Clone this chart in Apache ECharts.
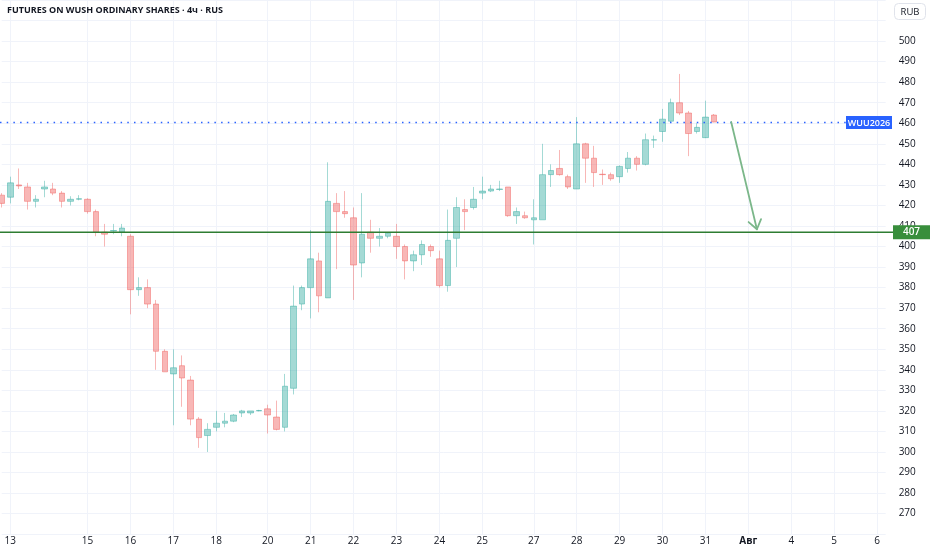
<!DOCTYPE html>
<html>
<head>
<meta charset="utf-8">
<script src="https://cdn.jsdelivr.net/npm/echarts@6/dist/echarts.min.js"></script>
<style>
html,body{margin:0;padding:0;background:#fff;}
#chart{width:932px;height:550px;}
</style>
</head>
<body>
<div id="chart"></div>
<script>
// ---- data (4h candles) ----
const opens  = [425,424,430,429,422,428,428,426,422,423,423,417,407,407.5,407,405,379,380,372,349,338,342,335,316,308,312,314,315,319,319,320,321,317,312,331,372,380,393,375,421,417,414,392,407,404,405,405,400,393,396,400,394,381,404,418,419,426,427,427.8,429,415,415,413,413,435,438,434,428,450,443,435.2,435,434,438,443,440,451.8,456,461,470,465,456,453,464];
const closes = [421,431,429.5,422,423,429,426,422,423,423.3,417,407,406,407.8,409,379,380,372,349,339,341,336,316,307,311,314,315,318,320,320,320.2,318,311,332,371,380,394,376,422,417,416,391,406,404,405,406.5,400,393,396,401,398,381,403,419,417,423,427,428,428,415,417,414,414,435,437,435,429,450,443,436,435,433,439,443,440,452,452,462,470,465,455,458,463,460.6];
const lows   = [419,421,428,418,419,424,425,419,420,422.5,416,405,400,406,405,367,376,370,340,339,313,322,313,302,300,310,312,314.5,317,318,319.8,309,310.5,310,328,369,365,368,375,389,414,374,385,397,400,404,394,384,388,391,395,380,378,390,408,418,423,426.5,427,414.5,411,413.5,401,413,429,434.5,428,428,431,429,430,432,431,436,437,439.5,448,451,460.5,464,444,455,452.8,460.5];
const highs  = [426,434,438,431,425,432,431,427,424.5,425,423.5,418,411,411,411,406,385,384,374,350,350,347,337,317,314,320,319,318.5,320.5,320,320.5,323,325,338,381,381,408,397,441,426,427,419,426,413,409,407,411,401,398,403,401,398,418,424,423,429,434,430,432,429,419,417,423,450,440,447,435,463,450.5,449,437.5,436,439.5,446,444,455,454,467,472,484,466,460,471,464.5];

// time axis: slots (one per 4h bar, incl. empty future slots) and day labels
const slotCount = 104;
const slots = Array.from({length: slotCount}, (_, i) => String(i));
const tickSlots  = [1, 10, 15, 20, 25, 31, 36, 41, 46, 51, 56, 62, 67, 72, 77, 82, 87, 92, 97, 102];
const tickLabels = ['13','15','16','17','18','20','21','22','23','24','25','27','28','29','30','31','Авг','4','5','6'];
const monthLabels = ['Авг'];

// price axis
const priceMin = 260, priceMax = 520, priceStep = 10;
const hiddenPriceLabels = [260, 510, 520];

// annotations
const symbolName = 'WUU2026';
const lastPrice = 460.6;
const supportLevel = 407;
const arrowFrom = [85, 460.6];
const arrowTo = [88, 408.4];

const candleData = opens.map((o, i) => [o, closes[i], lows[i], highs[i]]);

const UP = 'rgba(38,166,154,0.42)';
const DOWN = 'rgba(239,83,80,0.42)';
const FONT = "'Open Sans', 'Noto Sans', sans-serif";

const chart = echarts.init(document.getElementById('chart'), null, {renderer: 'canvas'});

const pxPerUnit = (513.5 - 38.5) / 230;
const gridTop = 38.5 - (priceMax - 500) * pxPerUnit;
const gridHeight = (priceMax - priceMin) * pxPerUnit;

chart.setOption({
  backgroundColor: '#ffffff',
  animation: false,
  title: {
    text: 'FUTURES ON WUSH ORDINARY SHARES · 4ч · RUS',
    left: 7, top: 6, padding: 0,
    textStyle: {fontSize: 9.0, fontWeight: 700, color: '#131722', fontFamily: FONT}
  },
  grid: {left: 1.7, right: 932 - (1.7 + 103 * 8.582), top: gridTop, height: gridHeight, containLabel: false},
  xAxis: {
    type: 'category',
    data: slots,
    boundaryGap: false,
    axisLine: {show: false},
    axisTick: {show: false},
    axisLabel: {
      interval: (idx) => tickSlots.indexOf(idx) >= 0,
      formatter: (v, idx) => {
        const k = tickSlots.indexOf(Number(v));
        if (k < 0) return '';
        const t = tickLabels[k];
        return monthLabels.indexOf(t) >= 0 ? '{m|' + t + '}' : t;
      },
      rich: {m: {fontWeight: 700, fontSize: 10, color: '#131722', fontFamily: FONT}},
      margin: 2,
      color: '#131722',
      fontSize: 10,
      fontFamily: FONT
    },
    splitLine: {
      show: true,
      interval: (idx) => tickSlots.indexOf(idx) >= 0,
      lineStyle: {color: '#f0f3fa', width: 1}
    }
  },
  yAxis: {
    type: 'value',
    position: 'right',
    min: priceMin, max: priceMax, interval: priceStep,
    axisLine: {show: false},
    axisTick: {show: false},
    axisLabel: {
      margin: 13,
      color: '#131722',
      fontSize: 10,
      fontFamily: FONT,
      formatter: (v) => hiddenPriceLabels.indexOf(v) >= 0 ? '' : String(v)
    },
    splitLine: {show: true, lineStyle: {color: '#f0f3fa', width: 1}}
  },
  series: [
    {
      type: 'candlestick',
      data: candleData,
      barWidth: 6,
      clip: false,
      itemStyle: {
        color: UP, color0: DOWN,
        borderColor: UP, borderColor0: DOWN,
        borderWidth: 1
      },
      z: 3
    },
    {
      // last price dotted line with symbol label
      type: 'custom',
      clip: false,
      z: 4,
      data: [[0, lastPrice]],
      encode: {x: 0, y: 1},
      renderItem: (params, api) => {
        const y = Math.round(api.coord([0, api.value(1)])[1]) + 0.5;
        return {
          type: 'group',
          children: [
            {type: 'line', shape: {x1: 0, y1: y, x2: 846, y2: y},
             style: {stroke: '#2962ff', lineWidth: 1.5, lineDash: [1.5, 5.2]}},
            {type: 'rect', shape: {x: 846, y: y - 6.5, width: 46, height: 13},
             style: {fill: '#2962ff'}},
            {type: 'text', style: {text: symbolName, x: 869, y: y + 0.5, align: 'center', verticalAlign: 'middle',
              fill: '#ffffff', font: "600 9px " + FONT}}
          ]
        };
      }
    },
    {
      // horizontal support level
      type: 'custom',
      clip: false,
      z: 5,
      data: [[0, supportLevel]],
      encode: {x: 0, y: 1},
      renderItem: (params, api) => {
        const y = api.coord([0, api.value(1)])[1];
        return {
          type: 'group',
          children: [
            {type: 'line', shape: {x1: 0, y1: y, x2: 893, y2: y},
             style: {stroke: '#2e7d32', lineWidth: 1.5}},
            {type: 'rect', shape: {x: 893, y: y - 7, width: 37, height: 14},
             style: {fill: '#388e3c'}},
            {type: 'text', style: {text: String(api.value(1)), x: 911.5, y: y + 0.5, align: 'center', verticalAlign: 'middle',
              fill: '#ffffff', font: "600 10px " + FONT}}
          ]
        };
      }
    },
    {
      // arrow annotation
      type: 'custom',
      clip: false,
      z: 6,
      data: [[arrowFrom[0], arrowFrom[1], arrowTo[0], arrowTo[1]]],
      encode: {x: [0, 2], y: [1, 3]},
      renderItem: (params, api) => {
        const p1 = api.coord([api.value(0), api.value(1)]);
        const p2 = api.coord([api.value(2), api.value(3)]);
        const ang = Math.atan2(p1[1] - p2[1], p1[0] - p2[0]);
        const len = 11, spread = 0.62;
        const w1 = [p2[0] + len * Math.cos(ang + spread), p2[1] + len * Math.sin(ang + spread)];
        const w2 = [p2[0] + len * Math.cos(ang - spread), p2[1] + len * Math.sin(ang - spread)];
        const st = {stroke: '#7bb78a', lineWidth: 1.8, lineCap: 'round', lineJoin: 'round', fill: null};
        return {
          type: 'group',
          children: [
            {type: 'line', shape: {x1: p1[0], y1: p1[1], x2: p2[0], y2: p2[1]}, style: st},
            {type: 'polyline', shape: {points: [w1, p2, w2]}, style: st}
          ]
        };
      }
    }
  ],
  graphic: [
    {
      type: 'group', left: 894, top: 3,
      children: [
        {type: 'rect', shape: {x: 0, y: 0, width: 31, height: 16, r: 4},
         style: {fill: '#ffffff', stroke: '#e0e3eb', lineWidth: 1}},
        {type: 'text', style: {text: 'RUB', x: 15.5, y: 8.5, align: 'center', verticalAlign: 'middle',
          fill: '#131722', font: "9.5px " + FONT}}
      ]
    }
  ]
});
</script>
</body>
</html>
